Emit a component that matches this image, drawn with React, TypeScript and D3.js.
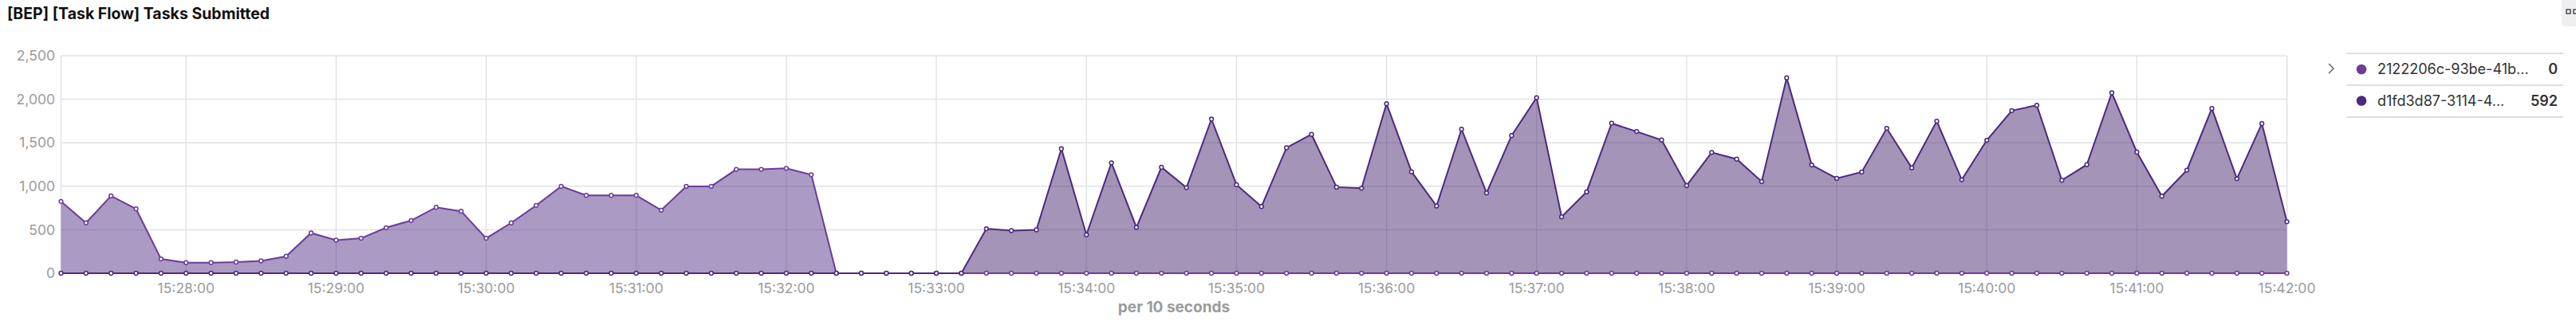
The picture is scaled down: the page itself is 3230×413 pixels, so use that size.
import { useEffect, useRef } from "react";
import * as d3 from "d3";

// 10-second buckets, 15:27:10 -> 15:42:00
const startTime = "2024-01-01T15:27:10Z";
const bucketCount = 90;

const seriesNames = ["2122206c-93be-41b...", "d1fd3d87-3114-4..."];
const legendValues = ["0", "592"];

// 2122206c-93be-41b...
const seriesA = [
  825, 579, 889, 740, 164, 122, 122, 128, 143, 195, 463, 381, 402, 524, 606,
  758, 713, 402, 579, 780, 999, 895, 895, 895, 725, 999, 999, 1194, 1194, 1206,
  1133, 0, 0, 0, 0, 0, 0, 0, 0, 0, 0, 0, 0, 0, 0,
  0, 0, 0, 0, 0, 0, 0, 0, 0, 0, 0, 0, 0, 0, 0,
  0, 0, 0, 0, 0, 0, 0, 0, 0, 0, 0, 0, 0, 0, 0,
  0, 0, 0, 0, 0, 0, 0, 0, 0, 0, 0, 0, 0, 0, 0,
];

// d1fd3d87-3114-4...
const seriesB = [
  0, 0, 0, 0, 0, 0, 0, 0, 0, 0, 0, 0, 0, 0, 0,
  0, 0, 0, 0, 0, 0, 0, 0, 0, 0, 0, 0, 0, 0, 0,
  0, 0, 0, 0, 0, 0, 0, 512, 490, 499, 1431, 442, 1270, 527, 1218,
  984, 1772, 1017, 767, 1443, 1596, 990, 977, 1949, 1166, 773, 1656, 923, 1583, 2019,
  649, 935, 1724, 1629, 1532, 1008, 1389, 1312, 1054, 2247, 1245, 1090, 1163, 1666, 1212,
  1748, 1075, 1529, 1870, 1931, 1069, 1248, 2074, 1392, 886, 1185, 1894, 1087, 1720, 592,
];

const yTicks = [0, 500, 1000, 1500, 2000, 2500];

export default function App() {
  const chartRef = useRef<SVGSVGElement>(null);

  useEffect(() => {
    if (!chartRef.current) return;
    d3.select(chartRef.current).selectAll("*").remove();

    const width = 3230;
    const height = 413;
    const left = 76.5;
    const right = 2867.5;
    const top = 70;
    const bottom = 343;
    const font = "Inter, 'Noto Sans', sans-serif";

    const t0 = new Date(startTime);
    const times = d3.range(bucketCount).map((i) => new Date(t0.getTime() + i * 10000));

    const svg = d3
      .select(chartRef.current)
      .attr("width", width)
      .attr("height", height)
      .style("display", "block")
      .style("background", "#fff");

    const x = d3
      .scaleUtc()
      .domain([times[0], times[times.length - 1]])
      .range([left, right]);

    const y = d3.scaleLinear().domain([0, 2500]).range([bottom, top]);

    // Title
    svg
      .append("text")
      .attr("x", 9)
      .attr("y", 24)
      .style("font-family", font)
      .style("font-weight", "700")
      .style("font-size", "19.5px")
      .attr("fill", "#111")
      .text("[BEP] [Task Flow] Tasks Submitted");

    // Grid
    const minuteTicks = x.ticks(d3.utcMinute.every(1)!);
    svg
      .append("g")
      .selectAll("line")
      .data(minuteTicks)
      .join("line")
      .attr("x1", (d) => x(d))
      .attr("x2", (d) => x(d))
      .attr("y1", top)
      .attr("y2", bottom)
      .attr("stroke", "#dddce3")
      .attr("stroke-width", 1.2);

    svg
      .append("g")
      .selectAll("line")
      .data(yTicks)
      .join("line")
      .attr("x1", left)
      .attr("x2", right)
      .attr("y1", (d) => y(d))
      .attr("y2", (d) => y(d))
      .attr("stroke", "#e2e1e6")
      .attr("stroke-width", 1.5);

    // Frame sides
    svg
      .append("g")
      .selectAll("line")
      .data([left, right])
      .join("line")
      .attr("x1", (d) => d)
      .attr("x2", (d) => d)
      .attr("y1", top)
      .attr("y2", bottom)
      .attr("stroke", "#e2e1e6")
      .attr("stroke-width", 1.5);

    // Y axis labels
    svg
      .append("g")
      .selectAll("text")
      .data(yTicks)
      .join("text")
      .attr("x", 69)
      .attr("y", (d) => y(d))
      .attr("dy", "0.35em")
      .attr("text-anchor", "end")
      .style("font-family", font)
      .style("font-size", "17.5px")
      .attr("fill", "#9b9b9b")
      .text((d) => d3.format(",")(d));

    // X axis labels
    svg
      .append("g")
      .selectAll("text")
      .data(minuteTicks)
      .join("text")
      .attr("x", (d) => x(d))
      .attr("y", 368)
      .attr("text-anchor", "middle")
      .style("font-family", font)
      .style("font-size", "17.5px")
      .attr("fill", "#9b9b9b")
      .text((d) => d3.utcFormat("%H:%M:%S")(d));

    svg
      .append("text")
      .attr("x", (left + right) / 2)
      .attr("y", 392)
      .attr("text-anchor", "middle")
      .style("font-family", font)
      .style("font-weight", "700")
      .style("font-size", "19px")
      .attr("fill", "#9b9b9b")
      .text("per 10 seconds");

    // Series
    const series = [
      { values: seriesA, line: "#6a3d9a", fill: "#573589" },
      { values: seriesB, line: "#4c2a7e", fill: "#472971" },
    ];

    const area = d3
      .area<number>()
      .x((_, i) => x(times[i]))
      .y0(y(0))
      .y1((d) => y(d));

    const line = d3
      .line<number>()
      .x((_, i) => x(times[i]))
      .y((d) => y(d));

    series.forEach((s) => {
      svg
        .append("path")
        .datum(s.values)
        .attr("d", area)
        .attr("fill", s.fill)
        .attr("fill-opacity", 0.5);
    });

    series.forEach((s) => {
      svg
        .append("path")
        .datum(s.values)
        .attr("d", line)
        .attr("fill", "none")
        .attr("stroke", s.line)
        .attr("stroke-width", 2);

      svg
        .append("g")
        .selectAll("circle")
        .data(s.values)
        .join("circle")
        .attr("cx", (_, i) => x(times[i]))
        .attr("cy", (d) => y(d))
        .attr("r", 2.4)
        .attr("fill", "#fff")
        .attr("stroke", s.line)
        .attr("stroke-width", 1.5);
    });

    // Legend
    svg
      .append("path")
      .attr("d", "M2920,80 L2926,86 L2920,92")
      .attr("fill", "none")
      .attr("stroke", "#555")
      .attr("stroke-width", 1.3);

    const legend = svg.append("g");
    [67, 107, 147].forEach((ly) => {
      legend
        .append("line")
        .attr("x1", 2942)
        .attr("x2", 3214)
        .attr("y1", ly)
        .attr("y2", ly)
        .attr("stroke", "#d4d4d8")
        .attr("stroke-width", 1.5);
    });

    seriesNames.forEach((name, i) => {
      const cy = 87 + i * 39.5;
      legend
        .append("circle")
        .attr("cx", 2961)
        .attr("cy", cy)
        .attr("r", 6.3)
        .attr("fill", series[i].line);
      legend
        .append("text")
        .attr("x", 2981)
        .attr("y", cy)
        .attr("dy", "0.35em")
        .style("font-family", font)
        .style("font-size", "18px")
        .attr("fill", "#333")
        .text(name);
      legend
        .append("text")
        .attr("x", 3207)
        .attr("y", cy)
        .attr("dy", "0.35em")
        .attr("text-anchor", "end")
        .style("font-family", font)
        .style("font-weight", "600")
        .style("font-size", "18px")
        .attr("fill", "#333")
        .text(legendValues[i]);
    });

    // Corner toolbar stub
    svg
      .append("path")
      .attr("d", "M3212,0 H3230 V33 H3218 Q3212,33 3212,27 Z")
      .attr("fill", "#efeff1");
    [3218, 3227].forEach((sx) => {
      svg
        .append("rect")
        .attr("x", sx)
        .attr("y", 12)
        .attr("width", 5)
        .attr("height", 5)
        .attr("fill", "none")
        .attr("stroke", "#444")
        .attr("stroke-width", 1.4);
    });
  }, []);

  return (
    <div style={{ position: "absolute", left: 0, top: 0 }}>
      <svg ref={chartRef}></svg>
    </div>
  );
}
